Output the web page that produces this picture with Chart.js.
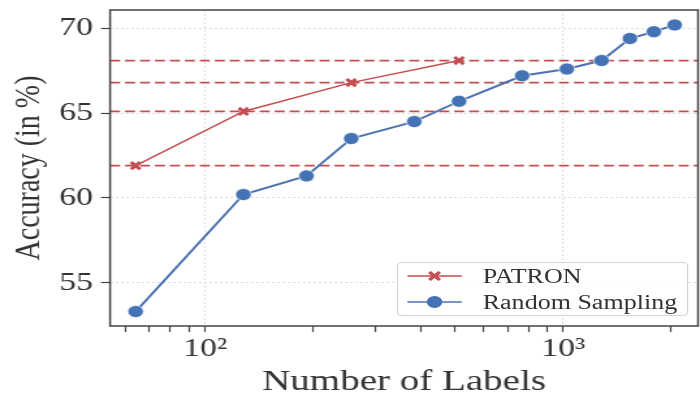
<!DOCTYPE html>
<html>
<head>
<meta charset="utf-8">
<script src="https://cdn.jsdelivr.net/npm/chart.js@4.4.0/dist/chart.umd.min.js"></script>
<style>
  html, body { margin: 0; padding: 0; background: #fff; overflow: hidden; }
  /* the figure is drawn narrow and stretched sideways, like the source image */
  #wrap { position: relative; width: 538px; height: 393px; transform: scaleX(1.3011); transform-origin: 0 0; }
  #legend { position: absolute; left: 305px; top: 262px; width: 222px; height: 52px;
            border: 1px solid #d4d4d4; border-radius: 4px; background: rgba(255,255,255,.85);
            font: 20px "Liberation Serif", serif; color: #333; }
  .row { position: absolute; left: 0; width: 100%; height: 26px; }
  .row svg { position: absolute; left: 7px; top: 5px; }
  .row span { position: absolute; left: 65px; top: 0; line-height: 26px; white-space: nowrap; }
</style>
</head>
<body>
<div id="wrap">
  <canvas id="chart" width="538" height="393"></canvas>
  <div id="legend">
    <div class="row" style="top:0px">
      <svg width="42" height="16"><line x1="0" y1="8" x2="42" y2="8" stroke="#c44e52" stroke-width="1.5"/><path d="M17 4 L25 12 M25 4 L17 12" stroke="#c44e52" stroke-width="3"/></svg>
      <span>PATRON</span>
    </div>
    <div class="row" style="top:26px">
      <svg width="42" height="16"><line x1="0" y1="8" x2="42" y2="8" stroke="#4c72b0" stroke-width="1.5"/><circle cx="21" cy="8" r="6" fill="#4472b4"/></svg>
      <span>Random Sampling</span>
    </div>
  </div>
</div>
<script>
// --- Data ---
const patronLabels = [64, 128, 256, 512];
const patronAcc    = [61.9, 65.1, 66.8, 68.1];
const randomLabels = [64, 128, 192, 256, 384, 512, 768, 1024, 1280, 1536, 1792, 2048];
const randomAcc    = [53.3, 60.2, 61.3, 63.5, 64.5, 65.7, 67.2, 67.6, 68.1, 69.4, 69.8, 70.2];

const yTicks = [55, 60, 65, 70];
const xTicks = [60, 70, 80, 90, 100, 200, 300, 400, 500, 600, 700, 800, 900, 1000, 2000];
const xTickText = { 100: '10²', 1000: '10³' };

const xMin = 54.3, xMax = 2380;
const yMin = 52.45, yMax = 71.08;

const RED  = '#c44e52';
const BLUE = '#4472b4';
const SERIF = 'Liberation Serif';

// dashed reference lines at each PATRON accuracy
const refLines = patronAcc.map(v => ({
  label: '',
  data: [{ x: xMin, y: v }, { x: xMax, y: v }],
  borderColor: RED,
  borderWidth: 1.8,
  borderDash: [7.7, 3.8],
  pointRadius: 0,
  order: 3,
}));

// box round the plot area
const frame = {
  id: 'frame',
  afterDatasetsDraw(chart) {
    const { ctx, chartArea: a } = chart;
    ctx.save();
    ctx.strokeStyle = '#444';
    ctx.lineWidth = 1.5;
    ctx.strokeRect(a.left, a.top, a.right - a.left, a.bottom - a.top);
    ctx.restore();
  },
};

new Chart(document.getElementById('chart'), {
  type: 'line',
  data: {
    datasets: [
      {
        label: 'PATRON',
        data: patronLabels.map((x, i) => ({ x, y: patronAcc[i] })),
        borderColor: RED,
        borderWidth: 1.5,
        pointStyle: 'crossRot',
        pointRadius: 5,
        pointBorderWidth: 3,
        pointBorderColor: RED,
        order: 1,
      },
      {
        label: 'Random Sampling',
        data: randomLabels.map((x, i) => ({ x, y: randomAcc[i] })),
        borderColor: '#4c72b0',
        borderWidth: 2,
        pointRadius: 6,
        pointBackgroundColor: BLUE,
        pointBorderColor: 'rgba(255,255,255,.8)',
        pointBorderWidth: 0.8,
        order: 2,
      },
      ...refLines,
    ],
  },
  options: {
    responsive: false,
    animation: false,
    events: [],
    layout: { autoPadding: false, padding: { top: 10, right: 1.5, left: 0, bottom: 0 } },
    elements: { line: { tension: 0 } },
    plugins: { legend: { display: false }, tooltip: { enabled: false } },
    scales: {
      x: {
        type: 'logarithmic',
        min: xMin,
        max: xMax,
        afterBuildTicks: s => { s.ticks = xTicks.map(v => ({ value: v })); },
        afterFit: s => { s.height = 67; s.paddingLeft = 0; s.paddingRight = 0; },
        ticks: {
          autoSkip: false, maxRotation: 0, padding: 2, color: '#333',
          font: { family: SERIF, size: 26 },
          callback: v => xTickText[v] || '',
        },
        grid: {
          color: c => (c.tick && xTickText[c.tick.value]) ? '#dcdcdc' : 'rgba(0,0,0,0)',
          tickColor: '#444', tickLength: 6, tickWidth: 1.2,
        },
        border: { display: false, dash: [2, 2] },
        title: {
          display: true, text: 'Number of Labels', color: '#333',
          font: { family: SERIF, size: 30, lineHeight: 0.7 },
          padding: { top: 0, bottom: 0 },
        },
      },
      y: {
        min: yMin,
        max: yMax,
        afterBuildTicks: s => { s.ticks = yTicks.map(v => ({ value: v })); },
        afterFit: s => { s.width = 84.6; s.paddingTop = 0; s.paddingBottom = 0; },
        ticks: {
          padding: 6, color: '#333',
          font: { family: SERIF, size: 26 },
          callback: v => v,
        },
        grid: { color: '#dcdcdc', tickColor: '#444', tickLength: 7, tickWidth: 1.2 },
        border: { display: false, dash: [2, 2] },
        title: {
          display: true, text: 'Accuracy (in %)', color: '#333',
          font: { family: SERIF, size: 28 },
          padding: { top: 6, bottom: 0 },
        },
      },
    },
  },
  plugins: [frame],
});
</script>
</body>
</html>
